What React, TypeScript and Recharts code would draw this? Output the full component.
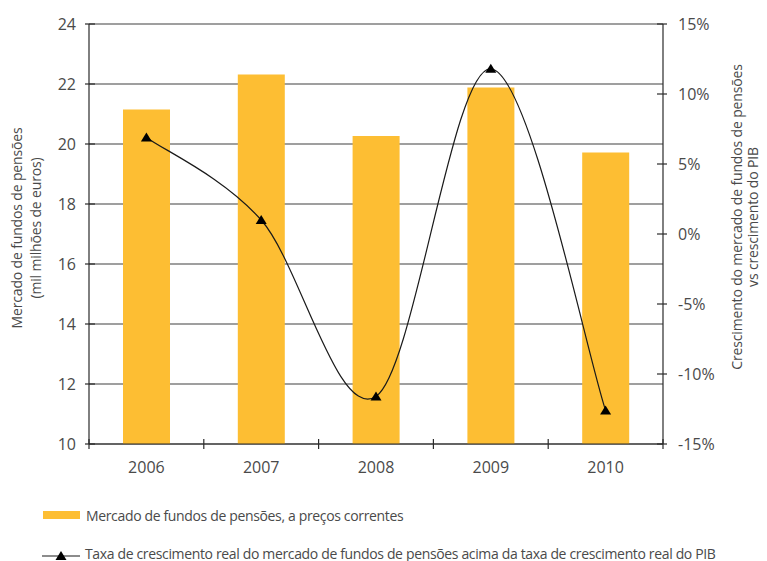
import { ComposedChart, Bar, Line, XAxis, YAxis, CartesianGrid } from 'recharts';

const years = ['2006', '2007', '2008', '2009', '2010'];
const marketValues = [21.15, 22.32, 20.27, 21.88, 19.72];
const growthValues = [6.9, 1.0, -11.6, 11.8, -12.6];
const leftTicks = [10, 12, 14, 16, 18, 20, 22, 24];
const rightTicks = [-15, -10, -5, 0, 5, 10, 15];

const data = years.map((year, i) => ({
  year,
  market: marketValues[i],
  growth: growthValues[i]
}));

const FONT = '"Open Sans", "Noto Sans", sans-serif';
const TEXT = '#4a4a4a';
const AXIS = '#2b2b2b';
const BAR = '#FDBE33';

// Excel-style smoothed line (bezier through each point)
const smoothCurve = (context: any) => {
  let pts: number[][] = [];
  return {
    areaStart() {},
    areaEnd() {},
    lineStart() {
      pts = [];
    },
    point(x: number, y: number) {
      pts.push([+x, +y]);
    },
    lineEnd() {
      if (!pts.length) return;
      context.moveTo(pts[0][0], pts[0][1]);
      for (let i = 0; i < pts.length - 1; i++) {
        const p0 = pts[i - 1] || pts[i];
        const p1 = pts[i];
        const p2 = pts[i + 1];
        const p3 = pts[i + 2] || pts[i + 1];
        context.bezierCurveTo(
          p1[0] + (p2[0] - p0[0]) / 6,
          p1[1] + (p2[1] - p0[1]) / 6,
          p2[0] - (p3[0] - p1[0]) / 6,
          p2[1] - (p3[1] - p1[1]) / 6,
          p2[0],
          p2[1]
        );
      }
    }
  };
};

const Triangle = (props: any) => {
  const { cx, cy, size = 5 } = props;
  if (cx == null || cy == null) return null;
  return (
    <path
      d={`M${cx},${cy - size} L${cx + size + 0.5},${cy + size - 1} L${cx - size - 0.5},${cy + size - 1} Z`}
      fill="#000"
    />
  );
};

const LeftTick = (props: any) => {
  const { x, y, payload } = props;
  const ax = x + 13;
  return (
    <g>
      <line x1={ax - 4} x2={ax + 6} y1={y} y2={y} stroke={AXIS} strokeWidth={1.2} />
      <text x={x} y={y} dy="0.36em" textAnchor="end" fill={TEXT} fontSize={16} fontFamily={FONT}>
        {payload.value}
      </text>
    </g>
  );
};

const RightTick = (props: any) => {
  const { x, y, payload } = props;
  const ax = x - 15;
  return (
    <g>
      <line x1={ax - 6} x2={ax + 4} y1={y} y2={y} stroke={AXIS} strokeWidth={1.2} />
      <text x={x} y={y} dy="0.36em" textAnchor="start" fill={TEXT} fontSize={16} fontFamily={FONT}>
        {`${payload.value}%`}
      </text>
    </g>
  );
};

const YearTick = (props: any) => {
  const { x, y, payload, index, width } = props;
  const band = (width || 574) / years.length;
  const ay = y - 18;
  return (
    <g>
      <line x1={x - band / 2} x2={x - band / 2} y1={ay - 5} y2={ay + 5} stroke={AXIS} strokeWidth={1.2} />
      {index === years.length - 1 && (
        <line x1={x + band / 2} x2={x + band / 2} y1={ay - 5} y2={ay + 5} stroke={AXIS} strokeWidth={1.2} />
      )}
      <text x={x} y={y} dy="0.71em" textAnchor="middle" fill={TEXT} fontSize={16} fontFamily={FONT}>
        {payload.value}
      </text>
    </g>
  );
};

const VerticalTitle = ({ lines, cx, cy, lh }: { lines: string[]; cx: number; cy: number; lh: number }) => (
  <div
    style={{
      position: 'absolute',
      left: cx,
      top: cy,
      transform: 'translate(-50%, -50%) rotate(-90deg)',
      whiteSpace: 'nowrap',
      textAlign: 'center',
      fontFamily: FONT,
      fontSize: 14,
      letterSpacing: -0.15,
      lineHeight: `${lh}px`,
      color: TEXT
    }}
  >
    {lines.map((l) => (
      <div key={l}>{l}</div>
    ))}
  </div>
);

const legendRow = {
  position: 'absolute' as const,
  left: 43,
  display: 'flex',
  alignItems: 'center',
  height: 20,
  whiteSpace: 'nowrap' as const,
  fontSize: 14,
  letterSpacing: -0.35,
  color: TEXT,
  fontFamily: FONT
};

const App = () => {
  return (
    <div
      style={{
        position: 'fixed',
        left: 0,
        top: 0,
        width: 767,
        height: 561,
        background: '#fff',
        fontFamily: FONT,
        overflow: 'hidden'
      }}
    >
      <ComposedChart width={767} height={561} data={data} margin={{ top: 24, right: 0, bottom: 91, left: 0 }}>
        <CartesianGrid yAxisId="left" horizontal vertical={false} stroke="#7f7f7f" strokeWidth={1.3} />
        <XAxis
          dataKey="year"
          height={26}
          axisLine={{ stroke: AXIS, strokeWidth: 1.2 }}
          tickLine={false}
          tickSize={6}
          tickMargin={12}
          tick={<YearTick />}
          interval={0}
        />
        <YAxis
          yAxisId="left"
          orientation="left"
          width={89}
          domain={[10, 24]}
          ticks={leftTicks}
          interval={0}
          axisLine={{ stroke: AXIS, strokeWidth: 1.2 }}
          tickLine={false}
          tickSize={6}
          tickMargin={7}
          tick={<LeftTick />}
        />
        <YAxis
          yAxisId="right"
          orientation="right"
          width={104}
          domain={[-15, 15]}
          ticks={rightTicks}
          interval={0}
          axisLine={{ stroke: AXIS, strokeWidth: 1.2 }}
          tickLine={false}
          tickSize={6}
          tickMargin={9}
          tick={<RightTick />}
        />
        <Bar yAxisId="left" dataKey="market" fill={BAR} barSize={47} isAnimationActive={false} />
        <Line
          yAxisId="right"
          dataKey="growth"
          type={smoothCurve as any}
          stroke="#1a1a1a"
          strokeWidth={1.2}
          dot={<Triangle size={5} />}
          activeDot={false}
          isAnimationActive={false}
        />
      </ComposedChart>

      <VerticalTitle lines={['Mercado de fundos de pensões', '(mil milhões de euros)']} cx={26} cy={228} lh={19} />
      <VerticalTitle
        lines={['Crescimento do mercado de fundos de pensões', 'vs crescimento do PIB']}
        cx={745}
        cy={217}
        lh={16}
      />

      <div style={{ ...legendRow, top: 505 }}>
        <span style={{ display: 'inline-block', flexShrink: 0, width: 37, height: 8, background: BAR, marginRight: 6 }} />
        <span>Mercado de fundos de pensões, a preços correntes</span>
      </div>
      <div style={{ ...legendRow, top: 543, left: 42 }}>
        <svg width={38} height={14} style={{ marginRight: 5, flexShrink: 0 }}>
          <line x1={0} x2={38} y1={10} y2={10} stroke="#1a1a1a" strokeWidth={1.2} />
          <path d="M19,5 L24.5,14 L13.5,14 Z" fill="#000" />
        </svg>
        <span>Taxa de crescimento real do mercado de fundos de pensões acima da taxa de crescimento real do PIB</span>
      </div>
    </div>
  );
};

export default App;
